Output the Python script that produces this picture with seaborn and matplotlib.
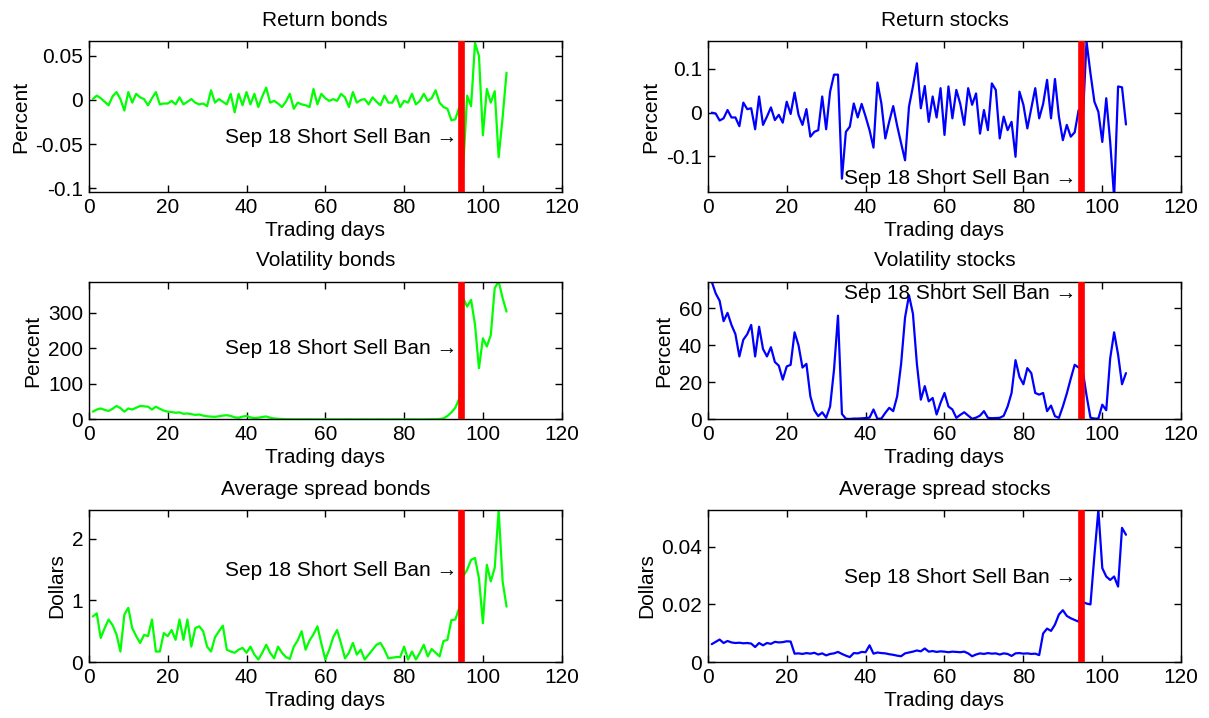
import matplotlib
matplotlib.use("Agg")
import matplotlib.pyplot as plt
import seaborn as sns
import numpy as np
import pandas as pd

# ---- data -------------------------------------------------------------
days = list(range(1, 107))
ban_day = 94.5
ban_label = "Sep 18 Short Sell Ban \u2192"

return_bonds = [
    0.001, 0.005, 0.002, -0.002, -0.006, 0.004, 0.009, 0.001, -0.012, 0.009,
    -0.003, 0.007, 0.003, 0.001, -0.006, 0.002, 0.009, -0.005, -0.004, -0.004,
    -0.001, -0.005, 0.003, -0.005, -0.002, 0.001, -0.003, -0.005, -0.004, -0.007,
    0.011, -0.003, 0.001, -0.002, -0.005, 0.007, -0.014, 0.007, -0.006, 0.009,
    -0.005, 0.007, -0.008, 0.004, 0.014, -0.003, -0.001, -0.004, -0.008, -0.002,
    0.007, -0.010, -0.003, -0.005, -0.006, -0.008, 0.0125, -0.005, 0.007, 0.002,
    -0.001, 0.001, -0.001, 0.007, 0.003, -0.008, 0.009, -0.003, 0.000, 0.001,
    -0.005, 0.003, -0.002, -0.006, 0.005, -0.003, -0.003, 0.005, -0.008, -0.001,
    -0.003, 0.007, -0.005, -0.001, 0.007, -0.001, 0.002, 0.011, -0.003, -0.008,
    -0.010, -0.023, -0.022, -0.008, -0.077, 0.005, -0.007, 0.065, 0.050, -0.040,
    0.0125, -0.003, 0.010, -0.065, -0.020, 0.031]

return_stocks = [
    0.000, -0.002, -0.018, -0.013, 0.006, -0.011, -0.011, -0.031, 0.023, 0.008,
    0.010, -0.038, 0.037, -0.028, -0.009, 0.012, -0.017, -0.005, -0.023, 0.025,
    -0.003, 0.046, -0.005, -0.028, 0.008, -0.055, -0.044, -0.040, 0.037, -0.038,
    0.048, 0.087, 0.087, -0.151, -0.044, -0.032, 0.021, -0.011, 0.020, -0.009,
    -0.040, -0.080, 0.069, 0.021, -0.059, -0.020, 0.015, -0.030, -0.070, -0.109,
    0.014, 0.060, 0.113, 0.010, 0.061, -0.021, 0.037, -0.011, 0.056, -0.051,
    0.060, -0.013, 0.052, 0.020, -0.028, 0.056, 0.018, 0.044, -0.048, 0.006,
    -0.040, 0.067, 0.052, -0.059, -0.009, -0.040, -0.021, -0.101, 0.048, 0.018,
    -0.036, 0.010, 0.056, -0.013, 0.020, 0.075, -0.013, 0.077, -0.009, -0.063,
    -0.028, -0.055, -0.045, 0.006, -0.028, 0.163, 0.090, 0.025, 0.002, -0.067,
    0.033, -0.067, -0.195, 0.060, 0.058, -0.027]

volatility_bonds = [
    22, 28, 31, 27, 24, 30, 38, 32, 22, 31,
    28, 33, 38, 37, 36, 28, 36, 30, 25, 22,
    21, 19, 20, 16, 17, 15, 13, 14, 11, 9,
    8, 7.5, 9, 11, 12, 10, 6, 5, 8, 10,
    6, 4, 5, 7, 8.5, 5, 3, 2, 1.5, 1,
    0.8, 0.6, 0.7, 0.5, 0.6, 0.8, 0.5, 0.4, 0.6, 0.7,
    0.5, 0.6, 0.4, 0.5, 0.7, 0.6, 0.5, 0.4, 0.5, 0.6,
    0.5, 0.4, 0.5, 0.6, 0.5, 0.4, 0.5, 0.6, 0.5, 0.4,
    0.5, 0.6, 0.5, 0.4, 0.5, 0.6, 0.8, 1.0, 1.5, 3,
    10, 20, 33, 59, 341, 317, 336, 266, 144, 228,
    205, 237, 369, 388, 341, 303]

volatility_stocks = [
    74.3, 68, 64, 53, 57.5, 51, 46, 34, 43, 46,
    51, 34, 50, 38, 34, 39, 31, 29, 21.5, 28.6,
    29.5, 47, 40, 28, 30, 12.5, 5, 1.8, 3.9, 0.9,
    7, 27, 56, 3, 0.4, 0.3, 0.5, 0.5, 0.6, 0.8,
    1, 5.4, 0.4, 0.5, 3.6, 6.3, 4.5, 12.5, 30, 55,
    67, 57, 30, 10.7, 18, 9.8, 11.6, 2.7, 9, 14.3,
    7, 5.4, 0.9, 2.5, 3.9, 2.1, 0.4, 1, 2.1, 4.5,
    0.9, 0.7, 0.8, 0.9, 2, 7, 14.3, 32, 23, 19,
    27.7, 25, 14.3, 13.4, 14.3, 4.5, 7.5, 1.8, 0.9, 7,
    14, 22, 29.5, 28, 27, 13, 1, 0.5, 0.5, 8,
    5, 33, 47, 35, 19, 25]

spread_bonds = [
    0.74, 0.79, 0.39, 0.55, 0.69, 0.60, 0.45, 0.17, 0.77, 0.88,
    0.55, 0.42, 0.31, 0.44, 0.42, 0.69, 0.17, 0.17, 0.47, 0.42,
    0.52, 0.36, 0.69, 0.36, 0.69, 0.25, 0.55, 0.58, 0.50, 0.25,
    0.17, 0.40, 0.50, 0.59, 0.20, 0.17, 0.15, 0.20, 0.23, 0.15,
    0.25, 0.12, 0.04, 0.15, 0.28, 0.15, 0.06, 0.25, 0.15, 0.08,
    0.05, 0.25, 0.35, 0.50, 0.20, 0.35, 0.45, 0.58, 0.30, 0.04,
    0.20, 0.40, 0.52, 0.30, 0.06, 0.15, 0.31, 0.12, 0.20, 0.04,
    0.12, 0.20, 0.28, 0.31, 0.20, 0.06, 0.07, 0.08, 0.08, 0.25,
    0.04, 0.17, 0.04, 0.15, 0.28, 0.09, 0.21, 0.15, 0.09, 0.34,
    0.36, 0.68, 0.69, 0.88, 1.39, 1.50, 1.66, 1.69, 1.36, 0.63,
    1.58, 1.31, 1.53, 2.47, 1.31, 0.90]

spread_stocks = [
    0.0062, 0.0070, 0.0078, 0.0066, 0.0073, 0.0068, 0.0066, 0.0067, 0.0065, 0.0066,
    0.0064, 0.0052, 0.0066, 0.0058, 0.0066, 0.0063, 0.0070, 0.0068, 0.0069, 0.0072,
    0.0071, 0.0029, 0.0030, 0.0028, 0.0031, 0.0029, 0.0032, 0.0026, 0.0030, 0.0023,
    0.0028, 0.0030, 0.0035, 0.0028, 0.0022, 0.0017, 0.0031, 0.0030, 0.0035, 0.0034,
    0.0058, 0.0029, 0.0033, 0.0031, 0.0030, 0.0027, 0.0025, 0.0022, 0.0020, 0.0030,
    0.0033, 0.0036, 0.0040, 0.0037, 0.0047, 0.0036, 0.0038, 0.0035, 0.0037, 0.0036,
    0.0034, 0.0036, 0.0035, 0.0034, 0.0036, 0.0030, 0.0020, 0.0026, 0.0030, 0.0028,
    0.0031, 0.0029, 0.0030, 0.0026, 0.0030, 0.0028, 0.0021, 0.0030, 0.0031, 0.0029,
    0.0030, 0.0028, 0.0029, 0.0024, 0.0099, 0.0116, 0.0108, 0.0130, 0.0165, 0.0180,
    0.0160, 0.0152, 0.0146, 0.0140, 0.0209, 0.0203, 0.0200, 0.0370, 0.0528, 0.0326,
    0.0297, 0.0285, 0.0297, 0.0262, 0.0466, 0.0442]

x_ticks = [0, 20, 40, 60, 80, 100, 120]

# ---- style ------------------------------------------------------------
sns.set_theme(style="ticks")
plt.rcParams["font.family"] = ["Liberation Sans", "DejaVu Sans"]
plt.rcParams["axes.unicode_minus"] = False
plt.rcParams["font.size"] = 15
for key in ("text.color", "axes.labelcolor", "axes.titlecolor",
            "xtick.color", "ytick.color", "axes.edgecolor"):
    plt.rcParams[key] = "black"

W, H = 1209, 718
fig = plt.figure(figsize=(W / 100, H / 100), dpi=100)
fig.patch.set_facecolor("white")

# panel boxes in pixels: (left, right) and (top, bottom)
col_x = [(88.9, 561.7), (707.8, 1181.2)]
row_y = [(41.0, 192.0), (281.7, 419.5), (510.0, 662.0)]

panels = [
    # title, series, color, ylabel, ylim, yticks, yticklabels, label_y
    ("Return bonds", return_bonds, (0, 1, 0), "Percent", (-0.1045, 0.067),
     [-0.1, -0.05, 0, 0.05], ["-0.1", "-0.05", "0", "0.05"], -0.0425),
    ("Return stocks", return_stocks, (0, 0, 1), "Percent", (-0.1816, 0.164),
     [-0.1, 0, 0.1], ["-0.1", "0", "0.1"], -0.150),
    ("Volatility bonds", volatility_bonds, (0, 1, 0), "Percent", (0, 387),
     [0, 100, 200, 300], ["0", "100", "200", "300"], 199),
    ("Volatility stocks", volatility_stocks, (0, 0, 1), "Percent", (0, 74.3),
     [0, 20, 40, 60], ["0", "20", "40", "60"], 68),
    ("Average spread bonds", spread_bonds, (0, 1, 0), "Dollars", (0, 2.47),
     [0, 1, 2], ["0", "1", "2"], 1.48),
    ("Average spread stocks", spread_stocks, (0, 0, 1), "Dollars", (0, 0.0528),
     [0, 0.02, 0.04], ["0", "0.02", "0.04"], 0.0292),
]

for i, (title, series, color, ylabel, ylim, yt, ytl, label_y) in enumerate(panels):
    r, c = divmod(i, 2)
    x0, x1 = col_x[c]
    y0, y1 = row_y[r]
    ax = fig.add_axes([x0 / W, 1 - y1 / H, (x1 - x0) / W, (y1 - y0) / H])
    df = pd.DataFrame({"day": days, "value": series})
    sns.lineplot(data=df, x="day", y="value", ax=ax, color=color,
                 linewidth=1.6, estimator=None, sort=False)
    ax.axvline(ban_day, color=(1, 0, 0), linewidth=4.8, zorder=5)
    ax.text(ban_day - 1.0, label_y, ban_label, ha="right", va="center",
            fontsize=15, color="black", zorder=6)

    ax.set_xlim(0, 120)
    ax.set_ylim(*ylim)
    ax.set_xticks(x_ticks)
    ax.set_xticklabels([str(t) for t in x_ticks])
    ax.set_yticks(yt)
    ax.set_yticklabels(ytl)
    ax.set_title(title, fontsize=15, pad=11, color="black")
    ax.set_xlabel("Trading days", fontsize=15, labelpad=3, color="black")
    ax.set_ylabel(ylabel, fontsize=15, labelpad=4, color="black")
    ax.tick_params(direction="in", top=True, right=True, length=5,
                   width=1, labelsize=15, pad=4, colors="black")
    for s in ax.spines.values():
        s.set_visible(True)
        s.set_color("black")
        s.set_linewidth(1.0)
    ax.set_facecolor("white")

fig.savefig("out.png", dpi=100, facecolor="white")
